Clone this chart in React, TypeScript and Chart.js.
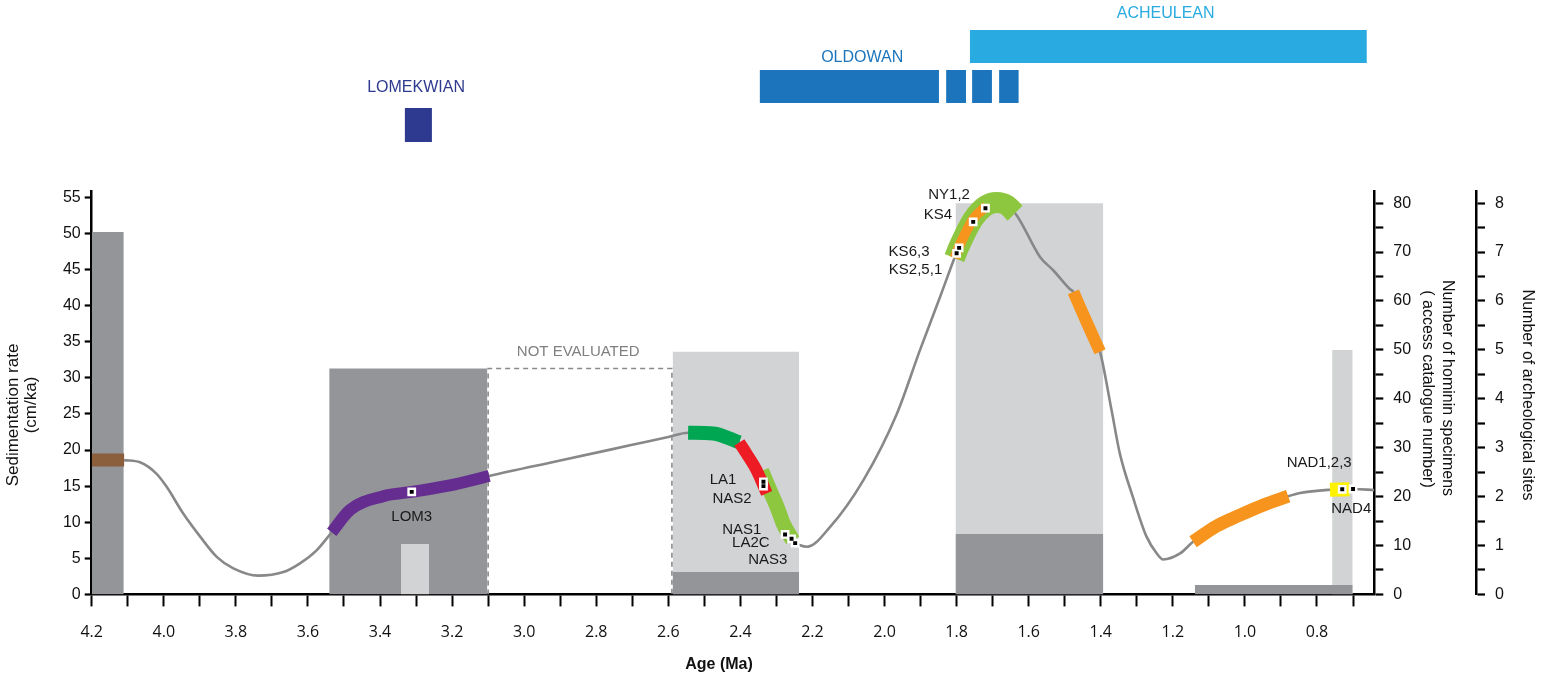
import React, { useEffect, useRef } from "react";
import { Chart, registerables } from "chart.js";

Chart.register(...registerables);

// ---------------- data ----------------
const AGE_MIN = 0.641;
const AGE_MAX = 4.2;
const SED_MAX = 55.78;
const HOM_MAX = 82.35;
const SITES_MAX = 8.235;

const X_TICK_VALUES = [4.2, 4.1, 4.0, 3.9, 3.8, 3.7, 3.6, 3.5, 3.4, 3.3, 3.2, 3.1, 3.0, 2.9, 2.8, 2.7, 2.6, 2.5, 2.4, 2.3, 2.2, 2.1, 2.0, 1.9, 1.8, 1.7, 1.6, 1.5, 1.4, 1.3, 1.2, 1.1, 1.0, 0.9, 0.8, 0.7];
const X_TICK_LABELS = ["4.2", "", "4.0", "", "3.8", "", "3.6", "", "3.4", "", "3.2", "", "3.0", "", "2.8", "", "2.6", "", "2.4", "", "2.2", "", "2.0", "", "1.8", "", "1.6", "", "1.4", "", "1.2", "", "1.0", "", "0.8", ""];
const SED_TICKS = [0, 5, 10, 15, 20, 25, 30, 35, 40, 45, 50, 55];
const SED_TICK_LABELS = ["0", "5", "10", "15", "20", "25", "30", "35", "40", "45", "50", "55"];
const HOM_TICKS = [0, 5, 10, 15, 20, 25, 30, 35, 40, 45, 50, 55, 60, 65, 70, 75, 80];
const HOM_TICK_LABELS = ["0", "", "10", "", "20", "", "30", "", "40", "", "50", "", "60", "", "70", "", "80"];
const SITE_TICKS = [0, 0.5, 1, 1.5, 2, 2.5, 3, 3.5, 4, 4.5, 5, 5.5, 6, 6.5, 7, 7.5, 8];
const SITE_TICK_LABELS = ["0", "", "1", "", "2", "", "3", "", "4", "", "5", "", "6", "", "7", "", "8"];

// sedimentation-rate curve
const CURVE_AGE = [4.11, 4.066, 4.02, 3.992, 3.946, 3.899, 3.853, 3.807, 3.738, 3.668, 3.622, 3.576, 3.534, 3.483, 3.391, 3.312, 3.206, 3.097, 2.9, 2.7, 2.6, 2.545, 2.475, 2.403, 2.383, 2.355, 2.327, 2.295, 2.275, 2.255, 2.234, 2.215, 2.151, 2.059, 1.966, 1.902, 1.846, 1.806, 1.793, 1.754, 1.72, 1.689, 1.66, 1.633, 1.568, 1.532, 1.486, 1.476, 1.439, 1.402, 1.37, 1.347, 1.311, 1.273, 1.245, 1.227, 1.18, 1.144, 1.079, 1.014, 0.949, 0.88, 0.847, 0.764, 0.73, 0.7, 0.641];
const CURVE_SED = [18.6, 18.3, 16.7, 14.9, 11.2, 8.0, 5.2, 3.6, 2.6, 3.1, 4.3, 6.1, 8.6, 11.7, 13.6, 14.2, 15.1, 16.4, 18.54, 20.72, 21.81, 22.4, 22.3, 21.05, 19.5, 17.2, 14.2, 11.5, 9.3, 7.4, 6.8, 6.6, 9.35, 15.8, 25.0, 33.8, 41.2, 46.6, 48.2, 52.0, 53.8, 54.3, 53.9, 52.5, 46.7, 44.9, 42.3, 41.9, 37.7, 33.6, 25.5, 19.5, 13.5, 8.0, 5.7, 4.84, 5.67, 7.29, 9.46, 10.98, 12.37, 13.6, 14.05, 14.5, 14.56, 14.6, 14.45];

// coloured intervals along the curve
const BROWN_AGE = [4.2, 4.11];
const BROWN_SED = [18.6, 18.6];
const PURPLE_AGE = [3.534, 3.483, 3.391, 3.312, 3.206, 3.097];
const PURPLE_SED = [8.6, 11.7, 13.6, 14.2, 15.1, 16.4];
const DKGREEN_AGE = [2.545, 2.475, 2.403];
const DKGREEN_SED = [22.4, 22.3, 21.05];
const RED_AGE = [2.403, 2.383, 2.355, 2.327];
const RED_SED = [21.05, 19.5, 17.2, 14.0];
const LTGREEN_AGE = [2.341, 2.318, 2.295, 2.281, 2.255];
const LTGREEN_SED = [17.1, 14.4, 11.7, 9.8, 7.5];
const PEAK_GREEN_AGE = [1.806, 1.793, 1.754, 1.72, 1.689, 1.66, 1.638];
const PEAK_GREEN_SED = [46.6, 48.2, 52.0, 53.8, 54.3, 53.9, 52.8];
const PEAK_ORANGE_AGE = [1.806, 1.793, 1.754, 1.717];
const PEAK_ORANGE_SED = [46.6, 48.2, 52.0, 53.8];
const ORANGE2_AGE = [1.476, 1.439, 1.402];
const ORANGE2_SED = [41.9, 37.7, 33.6];
const ORANGE3_AGE = [1.144, 1.079, 1.014, 0.949, 0.88];
const ORANGE3_SED = [7.29, 9.46, 10.98, 12.37, 13.6];
const YELLOW_AGE = [0.764, 0.71];
const YELLOW_SED = [14.5, 14.57];

// hominin specimen markers
const MARKER_AGE = [3.312, 2.336, 2.336, 2.276, 2.258, 2.248, 1.793, 1.8, 1.754, 1.72, 0.73, 0.7];
const MARKER_SED = [14.2, 15.6, 15.0, 8.3, 7.7, 7.1, 48.0, 47.25, 51.6, 53.5, 14.56, 14.6];

// specimen labels (anchored in data units)
const LABEL_TEXT = ["LOM3", "LA1", "NAS2", "NAS1", "LA2C", "NAS3", "NY1,2", "KS4", "KS6,3", "KS2,5,1", "NAD1,2,3", "NAD4"];
const LABEL_AGE = [3.312, 2.448, 2.423, 2.396, 2.371, 2.324, 1.821, 1.852, 1.932, 1.914, 0.794, 0.705];
const LABEL_SED = [10.7, 15.8, 13.3, 8.9, 7.1, 4.75, 55.3, 52.6, 47.4, 44.9, 18.2, 11.8];

// histogram bars
const HOM_START = [3.342, 2.588, 1.803, 0.758];
const HOM_END = [3.264, 2.237, 1.393, 0.701];
const HOM_COUNT = [10.3, 49.6, 80, 50];
const DARK_START = [4.2, 3.541, 2.588, 1.803, 1.139];
const DARK_END = [4.111, 3.102, 2.237, 1.393, 0.701];
const DARK_VALUE = [50.2, 31.3, 3.1, 8.35, 1.3];

// not evaluated interval
const NOT_EVAL_START = 3.1;
const NOT_EVAL_END = 2.59;
const NOT_EVAL_TOP = 31.3;
const NOT_EVAL_LABEL_AGE = 2.85;
const NOT_EVAL_LABEL_SED = 33.6;

// stone-tool industries
const INDUSTRY_NAMES = ["LOMEKWIAN", "OLDOWAN", "ACHEULEAN"];
const LOMEKWIAN_SPANS = [[3.331, 3.256]];
const OLDOWAN_SPANS = [[2.346, 1.849], [1.829, 1.774], [1.757, 1.702], [1.682, 1.628]];
const ACHEULEAN_SPANS = [[1.763, 0.662]];
const INDUSTRY_LABEL_AGE = [3.3, 2.062, 1.22];

// ---------------- styles ----------------
const FONT = "Arial, 'Liberation Sans', Helvetica, sans-serif";
const TICK_FONT = "'Open Sans', 'DejaVu Sans', sans-serif";
const C_DARK = "#939598";
const C_LIGHT = "#d1d3d4";
const C_CURVE = "#87888a";
const INDUSTRY_COLORS = ["#2e3a8f", "#1c75bc", "#29abe2"];
const INDUSTRY_ROWS = [
  { top: 108, bottom: 142, labelY: 88 },
  { top: 70, bottom: 103, labelY: 58 },
  { top: 30, bottom: 63, labelY: 14 },
];

const pts = (ages: number[], vals: number[]) => ages.map((a, i) => ({ x: a, y: vals[i] }));

function rectDs(start: number, end: number, value: number, axis: string, axisMax: number, color: string) {
  return {
    type: "line",
    data: [{ x: start, y: value }, { x: end, y: value }],
    yAxisID: axis,
    fill: "origin",
    backgroundColor: color,
    borderColor: "rgba(0,0,0,0)",
    borderWidth: 0,
    pointRadius: 0,
    tension: 0,
    order: 10 + (value / axisMax) * 10,
  };
}

function bandDs(ages: number[], vals: number[], color: string, width: number, order: number) {
  return {
    type: "line",
    data: pts(ages, vals),
    yAxisID: "y",
    borderColor: color,
    borderWidth: width,
    borderCapStyle: "butt",
    borderJoinStyle: "round",
    pointRadius: 0,
    fill: false,
    cubicInterpolationMode: "monotone",
    order,
  };
}

const overlayPlugin = {
  id: "overlay",
  afterDraw(chart: any) {
    const ctx = chart.ctx;
    const xs = chart.scales.x;
    const ys = chart.scales.y;
    ctx.save();
    // industries
    const spans = [LOMEKWIAN_SPANS, OLDOWAN_SPANS, ACHEULEAN_SPANS];
    spans.forEach((list, k) => {
      const row = INDUSTRY_ROWS[k];
      ctx.fillStyle = INDUSTRY_COLORS[k];
      list.forEach(([a, b]) => {
        const x1 = xs.getPixelForValue(a);
        const x2 = xs.getPixelForValue(b);
        ctx.fillRect(x1, row.top, x2 - x1, row.bottom - row.top);
      });
      ctx.font = `16px ${FONT}`;
      ctx.textAlign = "center";
      ctx.textBaseline = "middle";
      ctx.fillText(INDUSTRY_NAMES[k], xs.getPixelForValue(INDUSTRY_LABEL_AGE[k]), row.labelY);
    });
    // specimen labels
    ctx.fillStyle = "#1a1a1a";
    ctx.font = `15px ${FONT}`;
    ctx.textAlign = "center";
    ctx.textBaseline = "middle";
    LABEL_TEXT.forEach((t, i) => {
      ctx.fillText(t, xs.getPixelForValue(LABEL_AGE[i]), ys.getPixelForValue(LABEL_SED[i]));
    });
    // not evaluated
    ctx.fillStyle = "#808080";
    ctx.fillText("NOT EVALUATED", xs.getPixelForValue(NOT_EVAL_LABEL_AGE), ys.getPixelForValue(NOT_EVAL_LABEL_SED));
    // axis titles
    ctx.fillStyle = "#111";
    const rot = (text: string, x: number, y: number, ang: number, font: string) => {
      ctx.save();
      ctx.translate(x, y);
      ctx.rotate(ang);
      ctx.font = font;
      ctx.textAlign = "center";
      ctx.textBaseline = "middle";
      ctx.fillText(text, 0, 0);
      ctx.restore();
    };
    const tf = `16px ${FONT}`;
    rot("Sedimentation rate", 13, 415, -Math.PI / 2, `17px ${FONT}`);
    rot("(cm/ka)", 31, 405, -Math.PI / 2, `17px ${FONT}`);
    rot("Number of hominin specimens", 1447, 388, Math.PI / 2, tf);
    rot("( access catalogue number)", 1427, 389, Math.PI / 2, tf);
    rot("Number of archeological sites", 1527, 395, Math.PI / 2, tf);
    rot("Age (Ma)", 719, 665, 0, `bold 16px ${FONT}`);
    ctx.restore();
  },
};

export default function App() {
  const ref = useRef<HTMLCanvasElement | null>(null);
  useEffect(() => {
    if (!ref.current) return;
    const datasets: any[] = [];
    HOM_START.forEach((s, i) => datasets.push(rectDs(s, HOM_END[i], HOM_COUNT[i], "yHom", HOM_MAX, C_LIGHT)));
    DARK_START.forEach((s, i) => datasets.push(rectDs(s, DARK_END[i], DARK_VALUE[i], "y", SED_MAX, C_DARK)));
    datasets.push({
      type: "line",
      data: [
        { x: NOT_EVAL_START, y: 0 },
        { x: NOT_EVAL_START, y: NOT_EVAL_TOP },
        { x: NOT_EVAL_END, y: NOT_EVAL_TOP },
        { x: NOT_EVAL_END, y: 0 },
      ],
      yAxisID: "y",
      borderColor: "#8a8a8a",
      borderWidth: 1.6,
      borderDash: [5, 4],
      pointRadius: 0,
      fill: false,
      tension: 0,
      order: 8,
    });
    datasets.push({
      type: "line",
      data: pts(CURVE_AGE, CURVE_SED),
      yAxisID: "y",
      borderColor: C_CURVE,
      borderWidth: 2.6,
      pointRadius: 0,
      fill: false,
      cubicInterpolationMode: "monotone",
      order: 6,
    });
    datasets.push(bandDs(BROWN_AGE, BROWN_SED, "#8b5e3c", 13, 4));
    datasets.push(bandDs(PURPLE_AGE, PURPLE_SED, "#662d91", 12, 4));
    datasets.push(bandDs(LTGREEN_AGE, LTGREEN_SED, "#8dc63f", 15, 4.5));
    datasets.push(bandDs(DKGREEN_AGE, DKGREEN_SED, "#00a651", 14, 4));
    datasets.push(bandDs(RED_AGE, RED_SED, "#ed1c24", 12, 3.5));
    datasets.push(bandDs(PEAK_GREEN_AGE, PEAK_GREEN_SED, "#8dc63f", 21, 4));
    datasets.push(bandDs(PEAK_ORANGE_AGE, PEAK_ORANGE_SED, "#f7941d", 10, 3));
    datasets.push(bandDs(ORANGE2_AGE, ORANGE2_SED, "#f7941d", 12, 4));
    datasets.push(bandDs(ORANGE3_AGE, ORANGE3_SED, "#f7941d", 13, 4));
    datasets.push(bandDs(YELLOW_AGE, YELLOW_SED, "#fff200", 14, 4));
    datasets.push({
      type: "line",
      showLine: false,
      data: pts(MARKER_AGE, MARKER_SED),
      yAxisID: "y",
      pointStyle: "rect",
      pointRadius: 6.2,
      pointBackgroundColor: "#ffffff",
      pointBorderWidth: 0,
      order: 1,
    });
    datasets.push({
      type: "line",
      showLine: false,
      data: pts(MARKER_AGE, MARKER_SED),
      yAxisID: "y",
      pointStyle: "rect",
      pointRadius: 2.8,
      pointBackgroundColor: "#000000",
      pointBorderWidth: 0,
      order: 0,
    });

    const yTickFont = { family: FONT, size: 16 };
    const chart = new Chart(ref.current, {
      type: "line",
      data: { datasets },
      options: {
        animation: false,
        responsive: false,
        events: [],
        layout: { padding: { top: 191.7, left: 0, right: 0, bottom: 0 } },
        plugins: { legend: { display: false }, tooltip: { enabled: false } },
        scales: {
          x: {
            type: "linear",
            position: "bottom",
            reverse: true,
            min: AGE_MIN,
            max: AGE_MAX,
            afterBuildTicks: (s: any) => {
              s.ticks = X_TICK_VALUES.map((v) => ({ value: v }));
            },
            afterFit: (s: any) => {
              s.height = 84.6;
            },
            ticks: {
              autoSkip: false,
              maxRotation: 0,
              minRotation: 0,
              padding: 16,
              color: "#111",
              font: { family: TICK_FONT, size: 16 },
              callback: (_v: any, i: number) => X_TICK_LABELS[i],
            },
            grid: { drawOnChartArea: false, drawTicks: true, tickLength: 12, tickWidth: 2, tickColor: "#000" },
            border: { display: true, color: "#000", width: 2.5 },
          },
          y: {
            type: "linear",
            position: "left",
            min: 0,
            max: SED_MAX,
            afterBuildTicks: (s: any) => {
              s.ticks = SED_TICKS.map((v) => ({ value: v }));
            },
            afterFit: (s: any) => {
              s.width = 91.7;
            },
            ticks: {
              padding: 4,
              color: "#111",
              font: yTickFont,
              callback: (_v: any, i: number) => SED_TICK_LABELS[i],
            },
            grid: { drawOnChartArea: false, drawTicks: true, tickLength: 7, tickWidth: 2.2, tickColor: "#000" },
            border: { display: true, color: "#000", width: 2.5 },
          },
          yHom: {
            type: "linear",
            position: "right",
            weight: 0,
            min: 0,
            max: HOM_MAX,
            afterBuildTicks: (s: any) => {
              s.ticks = HOM_TICKS.map((v) => ({ value: v }));
            },
            afterFit: (s: any) => {
              s.width = 101.7;
            },
            ticks: {
              padding: 10,
              color: "#111",
              font: yTickFont,
              callback: (_v: any, i: number) => HOM_TICK_LABELS[i],
            },
            grid: { drawOnChartArea: false, drawTicks: true, tickLength: 9, tickWidth: 2.2, tickColor: "#000" },
            border: { display: true, color: "#000", width: 2.5 },
          },
          ySites: {
            type: "linear",
            position: "right",
            weight: 1,
            min: 0,
            max: SITES_MAX,
            afterBuildTicks: (s: any) => {
              s.ticks = SITE_TICKS.map((v) => ({ value: v }));
            },
            afterFit: (s: any) => {
              s.width = 75;
            },
            ticks: {
              padding: 10,
              color: "#111",
              font: yTickFont,
              callback: (_v: any, i: number) => SITE_TICK_LABELS[i],
            },
            grid: { drawOnChartArea: false, drawTicks: true, tickLength: 9, tickWidth: 2.2, tickColor: "#000" },
            border: { display: true, color: "#000", width: 2.5 },
          },
        },
      } as any,
      plugins: [overlayPlugin],
    } as any);
    return () => chart.destroy();
  }, []);

  return (
    <canvas
      ref={ref}
      width={1551}
      height={679}
      style={{ position: "fixed", left: 0, top: 0, width: 1551, height: 679, display: "block", background: "#fff" }}
    />
  );
}
